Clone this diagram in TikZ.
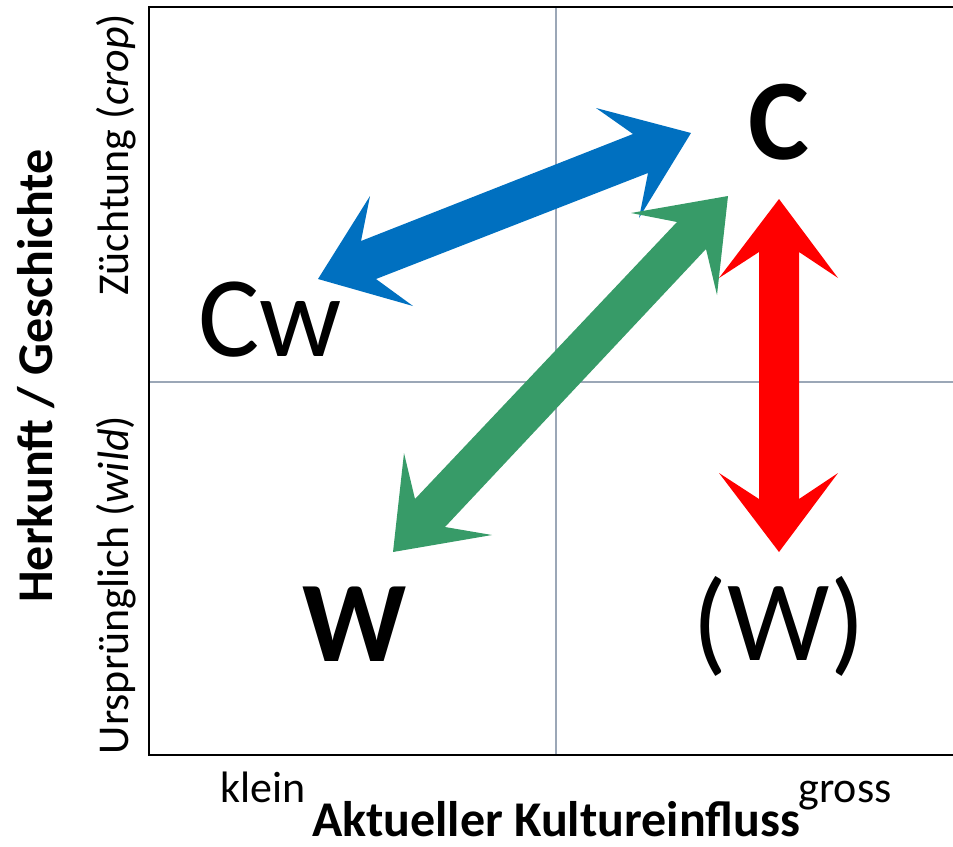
\documentclass[tikz,border=0pt]{standalone}
\usepackage{fontspec}
\setmainfont{Carlito}
\definecolor{gridgray}{HTML}{9BA7B7}
\definecolor{arrblue}{HTML}{0070C0}
\definecolor{arrgreen}{HTML}{379B68}
\definecolor{arrred}{HTML}{FF0000}
\begin{document}
\begin{tikzpicture}[x=1pt,y=-1pt,
  big/.style={inner sep=0pt,anchor=base,font=\fontsize{115}{120}\selectfont},
  axistitle/.style={inner sep=0pt,font=\fontsize{50}{56}\selectfont\bfseries},
  axislabel/.style={inner sep=0pt,font=\fontsize{44}{50}\selectfont},
  gridline/.style={draw=gridgray,line width=1.5pt},
  frameline/.style={draw=black,line width=2pt}]
\useasboundingbox (0,0) rectangle (953,846);
% grid
\draw[gridline] (556,7) -- (556,755);
\draw[gridline] (149,382) -- (953,382);
% frame
\draw[frameline] (953,7) -- (149,7) -- (149,755) -- (953,755);
% blue arrow
\fill[arrblue] (318,279) -- (370,196) -- (361,241) -- (633,134) -- (596,108) -- (691,133)
  -- (639,218) -- (648,173) -- (376,279) -- (413,306) -- cycle;
% green arrow
\fill[arrgreen] (393,552) -- (404,453) -- (415,499) -- (677,222) -- (631,213) -- (728,196)
  -- (717,295) -- (706,249) -- (445,527) -- (492,535) -- cycle;
% red arrow
\fill[arrred] (779,199) -- (838,278) -- (799,252) -- (799,499) -- (838,473) -- (779,552)
  -- (719,473) -- (759,499) -- (759,252) -- (719,278) -- cycle;
% big labels
\node[big,font=\fontsize{115}{120}\selectfont\bfseries] (C) at (779,159) {C};
\node[big] (Cw) at (270,356) {Cw};
\node[big,font=\fontsize{115}{120}\selectfont\bfseries] (W) at (355,661) {W};
\node[big] (Wp) at (779,660) {(W)};
% axis labels
\node[axistitle,rotate=90,anchor=base] (ytitle) at (52,376) {Herkunft / Geschichte};
\node[axislabel,rotate=90,anchor=base] (ytop) at (128,155) {Züchtung (\textit{crop})};
\node[axislabel,rotate=90,anchor=base] (ybot) at (128,585) {Ursprünglich (\textit{wild})};
\node[axislabel,anchor=base] (xl) at (263,802) {klein};
\node[axislabel,anchor=base] (xr) at (845,802) {gross};
\node[axistitle,anchor=base] (xtitle) at (556,836) {Aktueller Kultureinfluss};
\end{tikzpicture}
\end{document}
